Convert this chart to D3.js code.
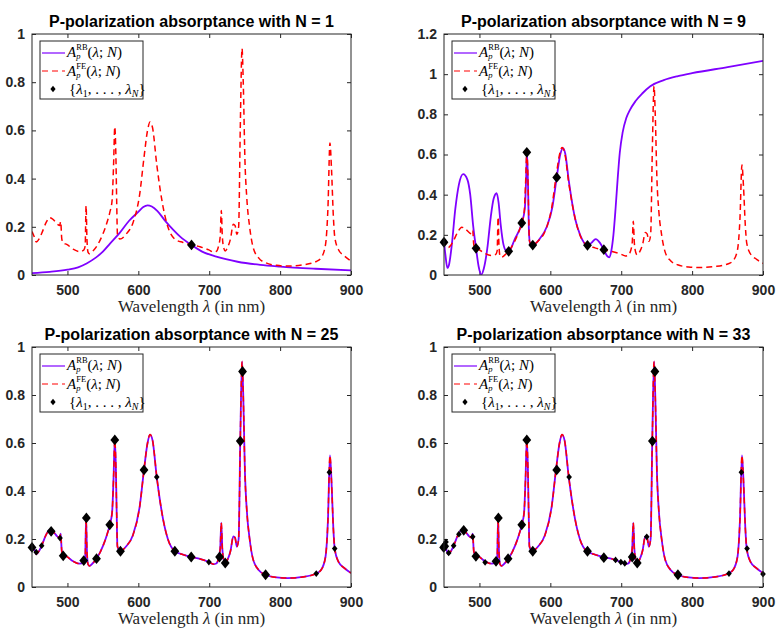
<!DOCTYPE html>
<html>
<head>
<meta charset="utf-8">
<script src="https://d3js.org/d3.v7.min.js"></script>
<style>
    body { margin: 0; background: #fff; }
    #chart svg { display: block; }
</style>
</head>
<body>
<div id="chart"></div>
<script>
    const width = 781
    const height = 632

    // full-electrodynamic absorptance (red dashed), same curve in every panel
    const lambdaFE = [450, 453, 456, 460, 463.6, 470, 475, 480, 486, 489, 490.5, 492, 494, 499, 508, 517, 523, 525, 526.3, 527.5,
        529, 531, 536, 541, 550, 556, 559.7, 563, 565, 566.8, 568.3, 569.5, 570.5, 574, 583, 592.6, 602, 608, 613, 616.5,
        620, 626, 635, 642, 651.5, 663, 675, 687, 699.5, 706, 710, 713, 715.5, 717, 718.5, 720.5, 722.6, 726, 730, 734,
        736.5, 739, 741.5, 743.8, 746.3, 748, 750.4, 753, 757, 762, 770, 779.5, 795, 810, 832, 851, 858, 864, 867.5, 870.3,
        872.5, 875, 877, 882, 891, 900]
    const absFE = [0.180, 0.160, 0.137, 0.150, 0.172, 0.218, 0.238, 0.230, 0.210, 0.205, 0.222, 0.150, 0.133, 0.127, 0.107, 0.097, 0.103, 0.120, 0.288, 0.150,
        0.095, 0.088, 0.100, 0.118, 0.170, 0.220, 0.259, 0.310, 0.450, 0.615, 0.500, 0.300, 0.170, 0.149, 0.170, 0.218, 0.337, 0.488, 0.600, 0.635,
        0.612, 0.458, 0.281, 0.197, 0.149, 0.135, 0.125, 0.117, 0.104, 0.095, 0.098, 0.118, 0.160, 0.268, 0.160, 0.112, 0.100, 0.115, 0.150, 0.211,
        0.205, 0.168, 0.200, 0.608, 0.940, 0.800, 0.475, 0.320, 0.200, 0.114, 0.070, 0.051, 0.040, 0.037, 0.042, 0.056, 0.072, 0.125, 0.280, 0.548,
        0.440, 0.250, 0.160, 0.107, 0.078, 0.058]

    // reduced-basis absorptance, N = 1
    const lambdaRB1 = [450, 475, 500, 515, 527, 540, 550, 560, 574, 587, 600, 607, 613, 619, 627, 637, 650, 659, 675, 690, 710, 740, 772, 800, 850, 900]
    const absRB1 = [0.008, 0.013, 0.022, 0.032, 0.048, 0.072, 0.097, 0.130, 0.176, 0.225, 0.262, 0.282, 0.289, 0.284, 0.265, 0.228, 0.185, 0.159, 0.124, 0.097, 0.076, 0.055, 0.042, 0.035, 0.026, 0.019]

    // reduced-basis absorptance, N = 9
    const lambdaRB9 = [450, 452, 454.7, 457, 461, 466, 471, 477, 483, 487, 491, 495.2, 499, 502.7, 506, 511, 516, 520, 524.3, 527,
        530, 534, 538, 541.3, 550, 559.7, 564, 566, 567, 568.5, 570, 572, 575.2, 585, 595, 603, 609, 614, 618, 621,
        626, 635, 642, 652.4, 658, 664, 670, 675.5, 680, 683, 686, 689, 692, 695, 698, 702, 707, 712, 720, 730,
        741, 760, 780, 800, 850, 900]
    const absRB9 = [0.165, 0.100, 0.035, 0.050, 0.150, 0.330, 0.450, 0.502, 0.475, 0.400, 0.250, 0.133, 0.040, 0.002, 0.030, 0.130, 0.290, 0.380, 0.407, 0.360,
        0.250, 0.150, 0.120, 0.118, 0.180, 0.259, 0.330, 0.500, 0.615, 0.450, 0.200, 0.150, 0.149, 0.180, 0.240, 0.340, 0.486, 0.600, 0.632, 0.605,
        0.470, 0.280, 0.200, 0.148, 0.160, 0.179, 0.160, 0.126, 0.095, 0.088, 0.120, 0.200, 0.330, 0.480, 0.610, 0.710, 0.780, 0.820, 0.865, 0.905,
        0.940, 0.970, 0.990, 1.005, 1.035, 1.066]

    // sample wavelengths {lambda_1..lambda_N}, their absorptance and multiplicity
    const nodesLambda1 = [675]
    const nodesAbs1 = [0.125]
    const nodesMult1 = [2]

    const nodesLambda9 = [450, 495.2, 541.3, 559.7, 566.8, 575.2, 609, 652.4, 675.5]
    const nodesAbs9 = [0.163, 0.133, 0.118, 0.259, 0.611, 0.149, 0.486, 0.148, 0.126]
    const nodesMult9 = [2, 2, 2, 2, 2, 2, 2, 2, 2]

    const nodesLambda25 = [450, 456, 463.6, 477, 489.5, 494, 523, 526.7, 541, 559.7, 566.8, 574.8, 608, 626, 651.5, 674.6, 699.5, 714.6, 722.6, 743.8,
        747, 779.5, 851, 869.5, 877]
    const nodesAbs25 = [0.165, 0.145, 0.172, 0.232, 0.204, 0.130, 0.110, 0.288, 0.118, 0.259, 0.613, 0.149, 0.488, 0.458, 0.149, 0.125, 0.104, 0.125, 0.100, 0.608,
        0.898, 0.051, 0.056, 0.478, 0.160]
    const nodesMult25 = [2, 1, 1, 2, 1, 2, 2, 2, 2, 2, 2, 2, 2, 1, 2, 2, 1, 2, 2, 2, 2, 2, 1, 1, 1]

    const nodesLambda33 = [449.5, 451, 452.8, 456.6, 463.6, 471, 477.8, 490.5, 495, 508, 523.4, 526.7, 540.4, 559.7, 566.8, 575.2, 609, 626.5, 652.4, 675.5,
        692, 699.5, 705, 715.5, 722.6, 736, 744, 747.5, 780, 852, 869.5, 877.5, 900]
    const nodesAbs33 = [0.165, 0.170, 0.188, 0.142, 0.172, 0.220, 0.236, 0.209, 0.128, 0.103, 0.107, 0.288, 0.118, 0.259, 0.613, 0.149, 0.488, 0.458, 0.149, 0.122,
        0.113, 0.104, 0.099, 0.125, 0.100, 0.209, 0.608, 0.898, 0.051, 0.056, 0.478, 0.160, 0.054]
    const nodesMult33 = [2, 2, 1, 1, 1, 1, 2, 1, 2, 1, 2, 2, 2, 2, 2, 2, 2, 1, 2, 2, 1, 1, 1, 2, 2, 1, 2, 2, 2, 1, 1, 1, 1]

    const nValues = [1, 9, 25, 33]
    const xTicks = [500, 600, 700, 800, 900]
    const yTicksA = [0, 0.2, 0.4, 0.6, 0.8, 1]
    const yTicksB = [0, 0.2, 0.4, 0.6, 0.8, 1, 1.2]

    const zip = (xs, ys) => xs.map((x, i) => ({ x: x, y: ys[i] }))
    const fe = zip(lambdaFE, absFE)

    const panels = [
        { n: nValues[0], left: 32, top: 34, h: 241, yMax: 1, yTicks: yTicksA, rb: zip(lambdaRB1, absRB1),
          nodes: nodesLambda1.map((l, i) => ({ x: l, y: nodesAbs1[i], m: nodesMult1[i] })) },
        { n: nValues[1], left: 444, top: 34, h: 241, yMax: 1.2, yTicks: yTicksB, rb: zip(lambdaRB9, absRB9),
          nodes: nodesLambda9.map((l, i) => ({ x: l, y: nodesAbs9[i], m: nodesMult9[i] })) },
        { n: nValues[2], left: 32, top: 347, h: 240, yMax: 1, yTicks: yTicksA, rb: fe,
          nodes: nodesLambda25.map((l, i) => ({ x: l, y: nodesAbs25[i], m: nodesMult25[i] })) },
        { n: nValues[3], left: 444, top: 347, h: 240, yMax: 1, yTicks: yTicksA, rb: fe,
          nodes: nodesLambda33.map((l, i) => ({ x: l, y: nodesAbs33[i], m: nodesMult33[i] })) }
    ]
    const plotW = 319

    const axisColor = "#262626"
    const rbColor = "#7f00ff"
    const feColor = "#ff0000"

    const svg = d3.select("#chart").append("svg")
        .attr("width", width)
        .attr("height", height)

    const diamond = (w, h) => `M0,${-h}L${w},0L0,${h}L${-w},0Z`
    const markerSize = d3.scaleOrdinal().domain([1, 2]).range([[2.8, 3.4], [4.4, 5.4]])

    const drawPanel = (p, idx) => {
        const xScale = d3.scaleLinear().domain([450, 900]).range([0, plotW])
        const yScale = d3.scaleLinear().domain([0, p.yMax]).range([p.h, 0])

        const g = svg.append("g").attr("transform", `translate(${p.left},${p.top})`)

        g.append("clipPath").attr("id", "clip" + idx)
            .append("rect").attr("width", plotW).attr("height", p.h)

        // axes with inward ticks
        const styleAxis = sel => {
            sel.select(".domain").remove()
            sel.selectAll("line").attr("stroke", axisColor)
            sel.selectAll("text")
                .attr("fill", axisColor)
                .style("font-family", "'Liberation Sans', Arial, sans-serif")
                .style("font-weight", "bold")
                .style("font-size", "14px")
        }
        g.append("g")
            .attr("transform", `translate(0,${p.h})`)
            .call(d3.axisBottom(xScale).tickValues(xTicks).tickSize(-4).tickPadding(10).tickFormat(d3.format("d")))
            .call(styleAxis)
        g.append("g")
            .call(d3.axisTop(xScale).tickValues(xTicks).tickSize(-4).tickFormat(""))
            .call(styleAxis)
        g.append("g")
            .call(d3.axisLeft(yScale).tickValues(p.yTicks).tickSize(-4).tickPadding(7).tickFormat(d3.format("~g")))
            .call(styleAxis)
        g.append("g")
            .attr("transform", `translate(${plotW},0)`)
            .call(d3.axisRight(yScale).tickValues(p.yTicks).tickSize(-4).tickFormat(""))
            .call(styleAxis)

        const line = d3.line()
            .x(d => xScale(d.x))
            .y(d => yScale(d.y))
            .curve(d3.curveMonotoneX)

        const plot = g.append("g").attr("clip-path", `url(#clip${idx})`)
        plot.append("path")
            .datum(p.rb)
            .attr("d", line)
            .attr("fill", "none")
            .attr("stroke", rbColor)
            .attr("stroke-width", 1.8)
        plot.append("path")
            .datum(fe)
            .attr("d", line)
            .attr("fill", "none")
            .attr("stroke", feColor)
            .attr("stroke-width", 1.5)
            .attr("stroke-dasharray", "6,4")

        g.selectAll(".node")
            .data(p.nodes)
            .enter()
            .append("path")
            .attr("class", "node")
            .attr("transform", d => `translate(${xScale(d.x)},${yScale(d.y)})`)
            .attr("d", d => diamond(...markerSize(d.m)))
            .attr("fill", "#000")

        g.append("rect")
            .attr("width", plotW)
            .attr("height", p.h)
            .attr("fill", "none")
            .attr("stroke", axisColor)
            .attr("stroke-width", 1)

        // title and x label
        g.append("text")
            .attr("x", plotW / 2)
            .attr("y", -7)
            .attr("text-anchor", "middle")
            .style("font-family", "'Liberation Sans', Arial, sans-serif")
            .style("font-weight", "bold")
            .style("font-size", "16px")
            .attr("fill", "#000")
            .text(`P-polarization absorptance with N = ${p.n}`)

        const xl = g.append("text")
            .attr("x", plotW / 2)
            .attr("y", p.h + 37)
            .attr("text-anchor", "middle")
            .style("font-family", "'Liberation Serif', 'Times New Roman', serif")
            .style("font-size", "17px")
            .attr("fill", axisColor)
        xl.append("tspan").text("Wavelength ")
        xl.append("tspan").style("font-style", "italic").text("λ")
        xl.append("tspan").text(" (in nm)")

        // legend
        const lg = g.append("g").attr("transform", "translate(8,7)")
        lg.append("rect")
            .attr("width", 103)
            .attr("height", 58)
            .attr("fill", "#fff")
            .attr("stroke", axisColor)
            .attr("stroke-width", 1)

        lg.append("line").attr("x1", 2).attr("x2", 25).attr("y1", 12).attr("y2", 12)
            .attr("stroke", rbColor).attr("stroke-width", 1.2)
        lg.append("line").attr("x1", 2).attr("x2", 25).attr("y1", 30).attr("y2", 30)
            .attr("stroke", feColor).attr("stroke-width", 1.2).attr("stroke-dasharray", "6,4")
        lg.append("path").attr("transform", "translate(13,48)").attr("d", diamond(2.6, 3.2)).attr("fill", "#000")

        const mathText = (y) => lg.append("text")
            .attr("x", 27)
            .attr("y", y)
            .style("font-family", "'Liberation Serif', 'Times New Roman', serif")
            .style("font-size", "15px")
            .attr("fill", "#000")

        const rows = [["RB", 16], ["FE", 35]]
        rows.forEach(([sup, y]) => {
            const t = mathText(y)
            t.append("tspan").style("font-style", "italic").text("A")
            t.append("tspan").style("font-style", "italic").style("font-size", "8.5px").attr("dy", 2).text("p")
            t.append("tspan").style("font-size", "8.5px").attr("dx", -4.2).attr("dy", -9.4).text(sup)
            t.append("tspan").attr("dy", 7.4).text("(")
            t.append("tspan").style("font-style", "italic").text("λ")
            t.append("tspan").text("; ")
            t.append("tspan").style("font-style", "italic").text("N")
            t.append("tspan").text(")")
        })
        const t3 = mathText(53)
        t3.append("tspan").attr("dx", 2).text("{")
        t3.append("tspan").style("font-style", "italic").text("λ")
        t3.append("tspan").style("font-size", "10px").attr("dy", 3).text("1")
        t3.append("tspan").attr("dy", -3).text(", . . . , ")
        t3.append("tspan").style("font-style", "italic").text("λ")
        t3.append("tspan").style("font-style", "italic").style("font-size", "10px").attr("dy", 3).text("N")
        t3.append("tspan").attr("dy", -3).text("}")
    }

    panels.forEach(drawPanel)
</script>
</body>
</html>
